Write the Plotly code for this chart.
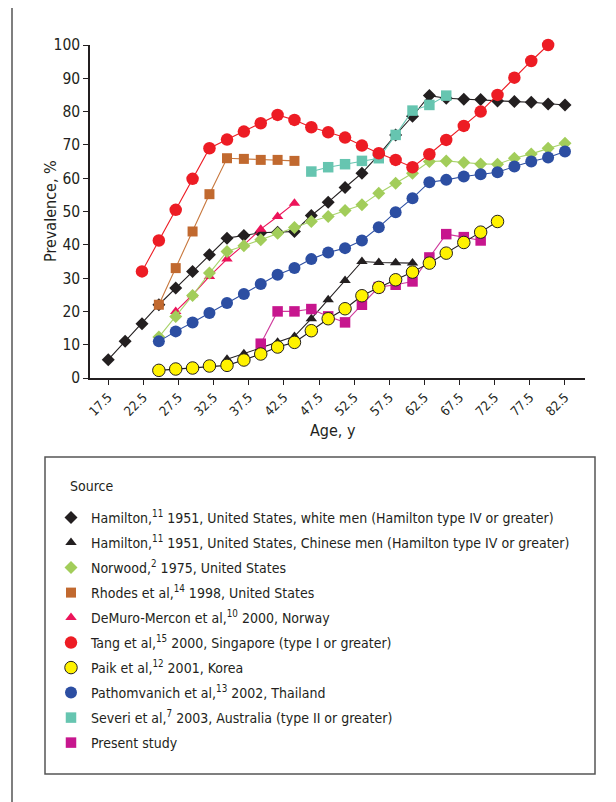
import plotly.graph_objects as go

# ---------------- data ----------------
# Age positions of the plotted points (28 evenly spaced positions, 17.5 ... 82.5)
AGES = [17.5, 19.9, 22.3, 24.7, 27.1, 29.5, 31.9, 34.4, 36.8, 39.2, 41.6, 44.0,
        46.4, 48.8, 51.2, 53.6, 56.0, 58.4, 60.8, 63.2, 65.6, 68.1, 70.5, 72.9,
        75.3, 77.7, 80.1, 82.5]

N = None
hamilton_white = [5.5, 11, 16.3, 22, 27, 32, 37, 42, 42.8, 43.6, 43.8, 44, 48.8, 52.8,
                  57.2, 61.5, 67, 73, 78.6, 84.8, 84, 83.7, 83.6, 83.2, 83, 82.8, 82.3, 82]
hamilton_chinese = [N, N, N, N, N, N, N, 5.6, 7.3, 9, 10.7, 12.5, 17.8, 23.5,
                    29.3, 35, 34.7, 34.6, 34.5, N, N, N, N, N, N, N, N, N]
norwood = [N, N, N, 12.3, 18.5, 24.8, 31.5, 38, 39.7, 41.5, 43.5, 45.2, 47, 48.5,
           50.3, 52, 55.5, 58.5, 61.5, 65, 65.2, 64.7, 64.3, 64.2, 66, 67.3, 69, 70.5]
rhodes = [N, N, N, 22, 33, 44, 55.2, 66, 65.8, 65.5, 65.5, 65.2, N, N,
          N, N, N, N, N, N, N, N, N, N, N, N, N, N]
demuro = [N, N, N, N, 20, 25, 30.5, 35.7, 40, 44.7, 48.5, 52.5, N, N,
          N, N, N, N, N, N, N, N, N, N, N, N, N, N]
tang = [N, N, 32, 41.3, 50.5, 59.8, 69, 71.6, 74, 76.5, 79, 77.5, 75.3, 73.8,
        72.2, 69.8, 67.5, 65.5, 63.3, 67.2, 71.5, 75.7, 80, 85, 90.2, 95.2, 100, N]
paik = [N, N, N, 2.3, 2.7, 3, 3.6, 3.8, 5.4, 7.2, 9.3, 10.7, 14.2, 17.8,
        20.8, 24.7, 27.2, 29.5, 31.8, 34.5, 37.5, 40.7, 43.8, 47, N, N, N, N]
pathomvanich = [N, N, N, 11, 14, 16.7, 19.5, 22.5, 25.2, 28.2, 31, 33, 35.7, 37.7,
                39, 41.3, 45.3, 49.8, 54, 58.8, 59.5, 60.5, 61.2, 61.8, 63.5, 65, 66.2, 68]
severi = [N, N, N, N, N, N, N, N, N, N, N, N, 62, 63.3,
          64.2, 65.2, 66, 73, 80.3, 82, 84.8, N, N, N, N, N, N, N]
present = [N, N, N, N, N, N, N, N, N, 10.3, 20, 20, 20.7, 18.5,
           16.7, 22, 27.3, 28, 29, 36.2, 43.2, 42.3, 41.3, N, N, N, N, N]

X_TICKS = [17.5, 22.5, 27.5, 32.5, 37.5, 42.5, 47.5, 52.5, 57.5, 62.5, 67.5, 72.5, 77.5, 82.5]
X_TICK_LABELS = ["17.5", "22.5", "27.5", "32.5", "37.5", "42.5", "47.5", "52.5",
                 "57.5", "62.5", "67.5", "72.5", "77.5", "82.5"]
Y_TICKS = [0, 10, 20, 30, 40, 50, 60, 70, 80, 90, 100]

# ---------------- series styling ----------------
series = [
    # key, values, legend name, symbol, size, fill, marker outline, line colour
    ("hw", hamilton_white, "Hamilton,<sup>11</sup> 1951, United States, white men (Hamilton type IV or greater)",
     "diamond", 10, "#231f20", None, "#231f20"),
    ("hc", hamilton_chinese, "Hamilton,<sup>11</sup> 1951, United States, Chinese men (Hamilton type IV or greater)",
     "triangle-up", 10, "#231f20", None, "#231f20"),
    ("rh", rhodes, "Rhodes et al,<sup>14</sup> 1998, United States",
     "square", 10, "#c1692f", None, "#c8783e"),
    ("dm", demuro, "DeMuro-Mercon et al,<sup>10</sup> 2000, Norway",
     "triangle-up", 10, "#ec145a", None, "#ec145a"),
    ("nw", norwood, "Norwood,<sup>2</sup> 1975, United States",
     "diamond", 10, "#a2cd5a", None, "#a8d36a"),
    ("sv", severi, "Severi et al,<sup>7</sup> 2003, Australia (type II or greater)",
     "square", 10.5, "#66c5b0", None, "#66c5b0"),
    ("pt", pathomvanich, "Pathomvanich et al,<sup>13</sup> 2002, Thailand",
     "circle", 12, "#2c4ea2", None, "#2c4ea2"),
    ("tg", tang, "Tang et al,<sup>15</sup> 2000, Singapore (type I or greater)",
     "circle", 12.5, "#ed1c24", None, "#ed1c24"),
    ("ps", present, "Present study",
     "square", 10.5, "#c7168e", None, "#cf3a9c"),
    ("pk", paik, "Paik et al,<sup>12</sup> 2001, Korea",
     "circle", 12.5, "#fff200", "#231f20", "#231f20"),
]
legend_order = ["hw", "hc", "nw", "rh", "dm", "tg", "pk", "pt", "sv", "ps"]

FONT = "DejaVu Sans Condensed, Liberation Sans Narrow, sans-serif"
INK = "#231f20"
FRAME = "#555555"

fig = go.Figure()
for key, vals, name, sym, size, fill, mline, lcol in series:
    fig.add_trace(go.Scatter(
        x=AGES, y=vals, mode="lines+markers", name=name, showlegend=False,
        line=dict(color=lcol, width=1.1),
        marker=dict(symbol=sym, size=size, color=fill,
                    line=dict(color=mline if mline else fill, width=1 if mline else 0)),
        cliponaxis=False, connectgaps=False, hoverinfo="x+y+name"))

# legend-only entries (markers only, as in the reference legend)
style = {s[0]: s for s in series}
for key in legend_order:
    _, vals, name, sym, size, fill, mline, lcol = style[key]
    fig.add_trace(go.Scatter(
        x=[None], y=[None], mode="markers", name=name, showlegend=True,
        legendgroup=key,
        marker=dict(symbol=sym, size=size, color=fill,
                    line=dict(color=mline if mline else fill, width=1 if mline else 0))))

# ---------------- layout ----------------
# The page body has an 8 px margin, so the figure is made 8 px smaller and
# all target pixel positions (window coordinates) are expressed relative to it.
OFF = 8
W, H = 616 - OFF, 802 - OFF
PL, PR, PT, PB = 90, 585, 45, 378  # plot area, window pixels


def px_x(p):
    return (p - PL) / (PR - PL)


def px_y(p):
    return (PB - p) / (PB - PT)


fig.update_layout(
    width=W, height=H,
    margin=dict(l=PL - OFF, r=W - (PR - OFF), t=PT - OFF, b=H - (PB - OFF), autoexpand=False),
    paper_bgcolor="white", plot_bgcolor="white",
    font=dict(family=FONT, color=INK, size=15),
    xaxis=dict(range=[14.9, 85.35], tickmode="array", tickvals=X_TICKS, ticktext=X_TICK_LABELS,
               tickangle=-45, ticks="outside", ticklen=5, tickwidth=1.2, tickcolor=INK,
               showline=True, linecolor=INK, linewidth=1.5, showgrid=False, zeroline=False,
               tickfont=dict(size=13), automargin=False),
    yaxis=dict(range=[0, 100], tickmode="array", tickvals=Y_TICKS,
               ticks="outside", ticklen=5, tickwidth=1.2, tickcolor=INK,
               showline=True, linecolor=INK, linewidth=1.5, showgrid=False, zeroline=False,
               tickfont=dict(size=15.5), automargin=False),
    legend=dict(x=px_x(51), y=px_y(502), xanchor="left", yanchor="top",
                traceorder="grouped", tracegroupgap=3.8,
                font=dict(size=14, family=FONT, color=INK),
                bgcolor="rgba(0,0,0,0)", borderwidth=0, itemclick=False),
    annotations=[
        dict(text="Age, y", xref="paper", yref="paper", x=px_x(333), y=px_y(430),
             xanchor="center", yanchor="middle", showarrow=False,
             font=dict(size=16, family=FONT, color=INK)),
        dict(text="Prevalence, %", xref="paper", yref="paper", x=px_x(50), y=px_y(211),
             xanchor="center", yanchor="middle", showarrow=False, textangle=-90,
             font=dict(size=16, family=FONT, color=INK)),
        dict(text="Source", xref="paper", yref="paper", x=px_x(68), y=px_y(486),
             xanchor="left", yanchor="middle", showarrow=False,
             font=dict(size=14, family=FONT, color=INK)),
    ],
    shapes=[
        dict(type="rect", xref="paper", yref="paper",
             x0=px_x(45), x1=px_x(595), y0=px_y(774), y1=px_y(457),
             line=dict(color=FRAME, width=1.5), fillcolor="rgba(0,0,0,0)", layer="below"),
        dict(type="line", xref="paper", yref="paper",
             x0=px_x(12), x1=px_x(12), y0=px_y(OFF), y1=px_y(802),
             line=dict(color=FRAME, width=1.5)),
    ],
    showlegend=True,
)

fig.write_html("out.html")
